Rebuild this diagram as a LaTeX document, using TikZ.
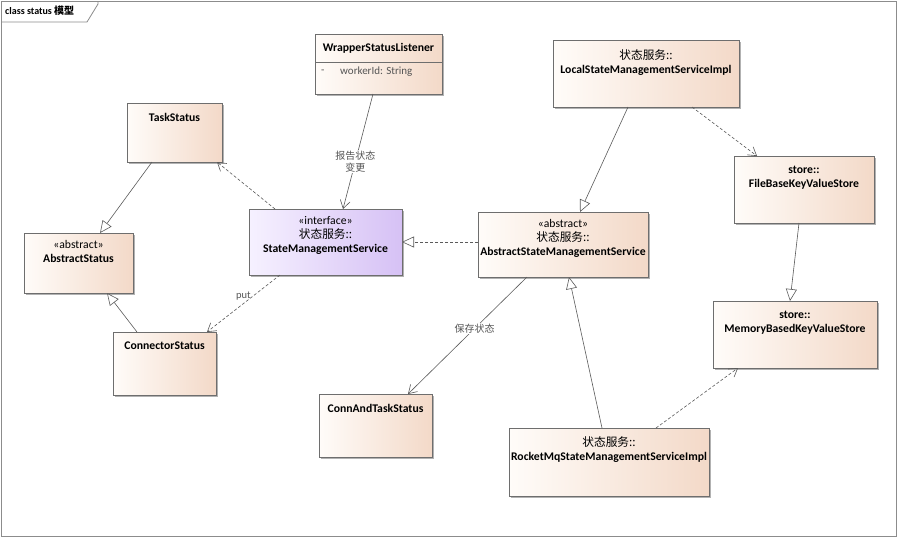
\documentclass[tikz,border=0pt]{standalone}
\usepackage{fontspec}
\setmainfont{Carlito}
\newfontfamily\cjk{Noto Sans CJK SC}
\usetikzlibrary{arrows.meta,shadows,calc}
\definecolor{peachL}{RGB}{255,252,249}
\definecolor{peachR}{RGB}{243,217,200}
\definecolor{lilacL}{RGB}{246,241,255}
\definecolor{lilacR}{RGB}{214,193,245}
\definecolor{boxline}{RGB}{110,110,110}
\definecolor{conn}{RGB}{90,90,90}
\definecolor{framec}{RGB}{140,140,140}
\definecolor{lblgray}{RGB}{85,85,85}
\tikzset{
  cls/.style={draw=boxline, line width=0.7pt, left color=peachL, right color=peachR,
    anchor=north west, inner sep=0pt, outer sep=0pt,
    drop shadow={shadow xshift=1.8pt, shadow yshift=-1.8pt, opacity=0.3, fill=black}},
  iface/.style={cls, left color=lilacL, right color=lilacR},
  lbl/.style={anchor=north, inner sep=0pt, align=center, font=\fontsize{11.7}{14}\selectfont},
  gen/.style={draw=conn, line width=0.6pt, -{Triangle[length=12pt,width=11pt,fill=white]}},
  realz/.style={gen, dash pattern=on 3pt off 2pt},
  assoc/.style={draw=conn, line width=0.6pt, -{Straight Barb[length=8pt,width=10pt]}},
  dep/.style={assoc, dash pattern=on 3pt off 2pt},
  edgelbl/.style={fill=white, inner sep=1pt, align=center, text=lblgray},
}
\begin{document}
\begin{tikzpicture}[x=1pt, y=-1pt]
\useasboundingbox (0,0) rectangle (899,539);
\fill[white] (0,0) rectangle (899,539);
% frame
\draw[framec, line width=0.8pt] (1,1) rectangle (896,536);
\draw[framec, line width=0.8pt] (1,22) -- (87,22) -- (98,4) -- (98,1);
\node[anchor=west, inner sep=0pt, font=\fontsize{10}{12}\selectfont\bfseries] (title) at (5,11) {class status{\cjk\ 模型}};

% classes
\node[cls, minimum width=95pt, minimum height=59pt] (ts) at (127,103) {};
\node[lbl] (tst) at ([yshift=-10pt]ts.north) {\bfseries TaskStatus};

\node[cls, minimum width=109pt, minimum height=60pt] (as) at (24,233) {};
\node[lbl] (ast) at ([yshift=-7pt]as.north) {«abstract»\\\bfseries AbstractStatus};

\node[iface, minimum width=153pt, minimum height=66pt] (sms) at (249,209) {};
\node[lbl] (smst) at ([yshift=-7pt]sms.north) {«interface»\\{\cjk 状态服务::}\\\bfseries StateManagementService};

\node[cls, minimum width=170pt, minimum height=65pt] (asms) at (478,212) {};
\node[lbl] (asmst) at ([yshift=-7pt]asms.north) {«abstract»\\{\cjk 状态服务::}\\\bfseries AbstractStateManagementService};

\node[cls, minimum width=127pt, minimum height=60pt] (wsl) at (315,34) {};
\node[lbl] (wslt) at ([yshift=-9pt]wsl.north) {\bfseries WrapperStatusListener};
\draw[boxline, line width=0.6pt] ([yshift=-28pt]wsl.north west) coordinate (wsa) -- ([yshift=-28pt]wsl.north east) coordinate (wsb);
\node[anchor=west, inner sep=0pt, text=lblgray, font=\fontsize{11}{12}\selectfont] (wsm) at ([xshift=6pt,yshift=-38pt]wsl.north west) {-};
\node[anchor=west, inner sep=0pt, text=lblgray, font=\fontsize{11}{12}\selectfont] (wsw) at ([xshift=25pt,yshift=-38pt]wsl.north west) {workerId: String};

\node[cls, minimum width=186pt, minimum height=67pt] (lsi) at (553,40) {};
\node[lbl] (lsit) at ([yshift=-9pt]lsi.north) {{\cjk 状态服务::}\\\bfseries LocalStateManagementServiceImpl};

\node[cls, minimum width=140pt, minimum height=67pt] (fb) at (734,156) {};
\node[lbl] (fbt) at ([yshift=-10pt]fb.north) {\bfseries store::\\\bfseries FileBaseKeyValueStore};

\node[cls, minimum width=164pt, minimum height=67pt] (mb) at (713,301) {};
\node[lbl] (mbt) at ([yshift=-10pt]mb.north) {\bfseries store::\\\bfseries MemoryBasedKeyValueStore};

\node[cls, minimum width=103pt, minimum height=63pt] (cs) at (113,332) {};
\node[lbl] (cst) at ([yshift=-10pt]cs.north) {\bfseries ConnectorStatus};

\node[cls, minimum width=113pt, minimum height=63pt] (cat) at (319,394) {};
\node[lbl] (catt) at ([yshift=-10pt]cat.north) {\bfseries ConnAndTaskStatus};

\node[cls, minimum width=200pt, minimum height=68pt] (rmq) at (509,428) {};
\node[lbl] (rmqt) at ([yshift=-8pt]rmq.north) {{\cjk 状态服务::}\\\bfseries RocketMqStateManagementServiceImpl};

% connectors
\draw[gen] ([xshift=-22.5pt]ts.south) -- ([xshift=21.5pt]as.north);
\draw[gen] ([xshift=-27.5pt]cs.north) -- ([xshift=28.5pt]as.south);
\draw[dep] ([xshift=-50.5pt]sms.north) -- ([xshift=-5pt]ts.south east);
\draw[dep] ([xshift=-45.5pt]sms.south) -- node[pos=0.37, anchor=east, inner sep=2pt, text=lblgray, font=\fontsize{10.5}{12}\selectfont] (putl) {put} ([xshift=-9pt]cs.north east);
\draw[assoc] ([xshift=-5.5pt]wsl.south) -- node[pos=0.59, edgelbl, font=\cjk\fontsize{10}{12}\selectfont] (rl) {报告状态\\变更} ([xshift=17.5pt]sms.north);
\draw[realz] (asms.west |- sms.east) -- (sms.east);
\draw[gen] ([xshift=-18pt]lsi.south) -- ([xshift=17pt]asms.north);
\draw[dep] ([xshift=46pt]lsi.south) -- ([xshift=-47pt]fb.north);
\draw[gen] ([xshift=-5pt]fb.south) -- ([xshift=-5pt]mb.north);
\draw[gen] ([xshift=-7pt]rmq.north) -- ([xshift=6pt]asms.south);
\draw[dep] ([xshift=47pt]rmq.north) -- ([xshift=-57pt]mb.south);
\draw[assoc] ([xshift=-36pt]asms.south) -- node[pos=0.44, edgelbl, font=\cjk\fontsize{10}{12}\selectfont] (bl) {保存状态} ([xshift=32.5pt]cat.north);
\end{tikzpicture}
\end{document}
